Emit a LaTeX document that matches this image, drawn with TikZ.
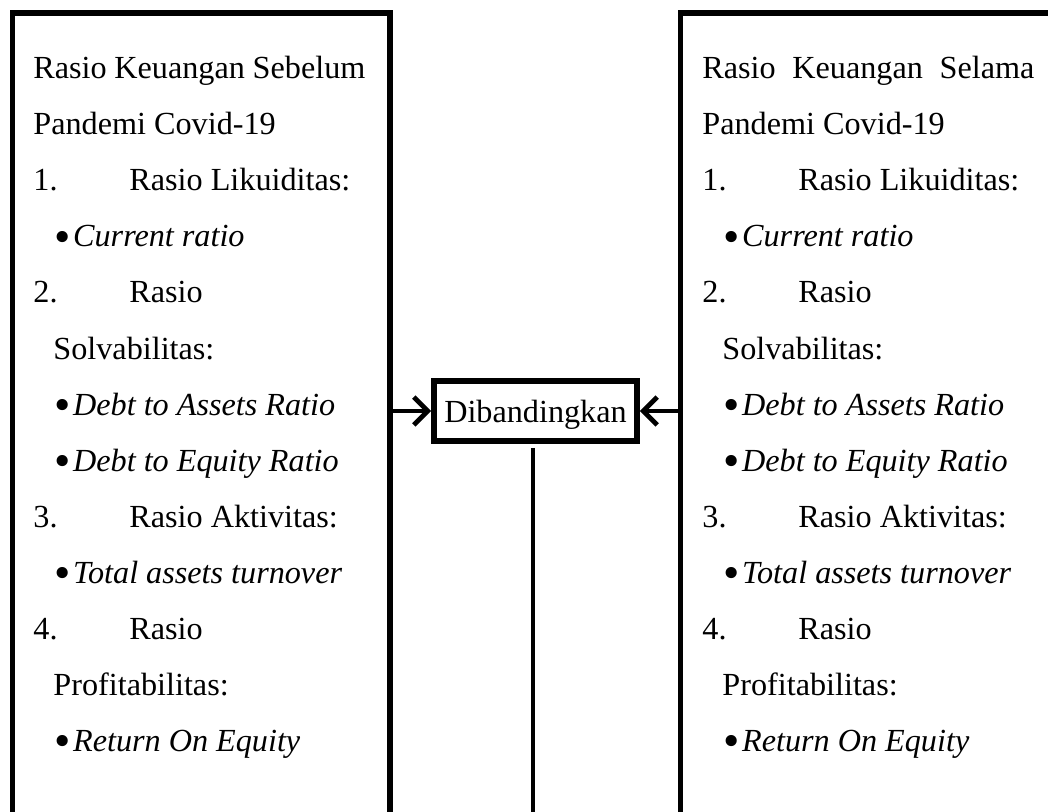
\documentclass[tikz,border=0pt]{standalone}
\usepackage{graphicx}
\usepackage{fontspec}
\setmainfont{Liberation Serif}
\usetikzlibrary{arrows.meta}

\newcommand{\numtab}[1]{\makebox[48pt][l]{#1}}
\newcommand{\bul}[1]{\hspace*{10.5pt}\raisebox{-2.6pt}{\scalebox{1.45}{\textbullet}}\hspace{1.2pt}\textit{#1}}

\begin{document}
\begin{tikzpicture}[x=0.5pt, y=-0.5pt,
    panel/.style={draw, line width=2.8pt, inner sep=0pt, outer sep=0pt, anchor=north west, minimum height=450pt},
    main node/.style={draw, line width=2.8pt, inner sep=0pt, text depth=0pt, minimum width=101.5pt, minimum height=30pt},
    txtline/.style={anchor=base west, inner sep=0pt},
    arr/.style={-{Straight Barb[length=7pt, width=14pt]}, line width=2.4pt},
    link/.style={line width=2.2pt}]
  \tikzstyle{every node}=[font=\fontsize{16.1}{20}\selectfont]

  \fill[white] (0,0) rectangle (1048,812);
  \useasboundingbox (0,0) rectangle (1048,812);
  \clip (0,0) rectangle (1048,812);

  \node[panel, minimum width=188.75pt] (1) at (12.5,13) {};
  \node[panel, minimum width=250pt] (3) at (680.5,13) {};
  \node[main node] (2) at (535.5,411) {Dibandingkan};
  \coordinate (end) at (533,830);

  % text of both panels
  \foreach \px/\head [count=\k] in {33/{Rasio Keuangan Sebelum}, 702/{Rasio Keuangan Selama}}
    \foreach \txt [count=\i from 0] in {{\makebox[166pt][s]{\head}}, Pandemi Covid-19,
        \numtab{1.}Rasio Likuiditas:, \bul{Current ratio},
        \numtab{2.}Rasio, \hspace*{10pt}Solvabilitas:,
        \bul{Debt to Assets Ratio}, \bul{Debt to Equity Ratio},
        \numtab{3.}Rasio Aktivitas:, \bul{Total assets turnover},
        \numtab{4.}Rasio, \hspace*{10pt}Profitabilitas:,
        \bul{Return On Equity}}
      \node[txtline] (t\k-\i) at (\px, 79+56*\i) {\txt};

  \draw[arr] (1.east |- 2.west) -- (2.west);
  \draw[arr] (3.west |- 2.east) -- (2.east);
  \draw[link, shorten <=2pt] (2.south -| end) -- (end);

\end{tikzpicture}
\end{document}
